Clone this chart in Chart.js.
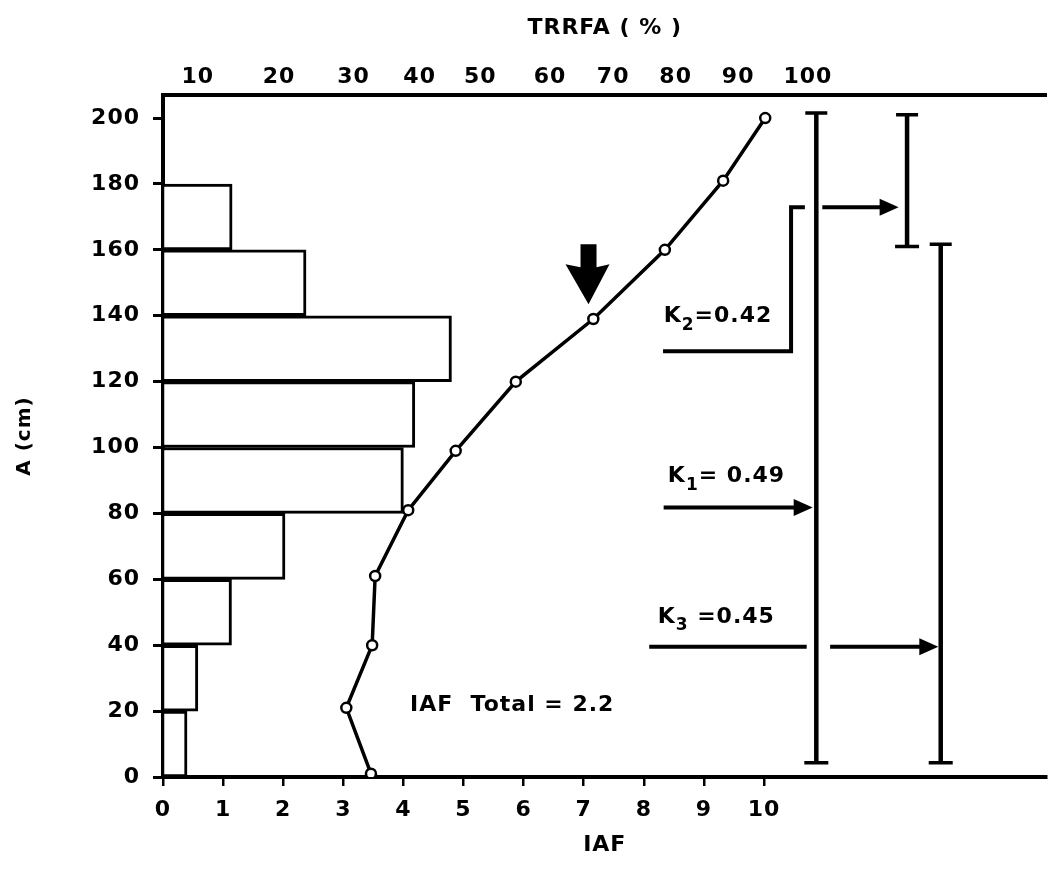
<!DOCTYPE html>
<html><head><meta charset="utf-8">
<script src="https://cdn.jsdelivr.net/npm/chart.js@4/dist/chart.umd.min.js"></script>
<style>html,body{margin:0;padding:0;background:#fff;}canvas{display:block;}</style>
</head><body>
<canvas id="c" width="1054" height="881"></canvas>
<script>
// ---- data ----
const heightA   = [1, 21, 40, 61, 81, 99, 120, 139, 160, 181, 200];          // A (cm) of curve points
const iafCurve  = [3.46, 3.05, 3.48, 3.53, 4.08, 4.87, 5.87, 7.16, 8.35, 9.32, 10.02]; // curve on IAF scale
const binCenters = [10, 30, 50, 70, 90, 110, 130, 150, 170];                 // 20 cm layers
const binIAF     = [0.40, 0.58, 1.14, 2.03, 4.00, 4.19, 4.80, 2.38, 1.15];   // IAF per layer
const xTickValues = [0,1,2,3,4,5,6,7,8,9,10];
const yTickValues = [0,20,40,60,80,100,120,140,160,180,200];
const trrfaLabels = ['10','20','30','40','50','60','70','80','90','100'];
const trrfaAtIAF  = [0.58, 1.93, 3.17, 4.27, 5.28, 6.44, 7.49, 8.53, 9.57, 10.73];
const kNames  = ['2', '1', '3'];
const kValues = ['=0.42', '= 0.49', ' =0.45'];
const totalLabel = 'IAF  Total = 2.2';

// ---- annotation geometry in data units (IAF, A) ----
const rangeBars = [ {x:10.87, lo:4.3, hi:201.5}, {x:12.38, lo:161, hi:201}, {x:12.94, lo:4.3, hi:161.7} ];
const kLabelPos = [ {x:8.33, y:139.8}, {x:8.40, y:91.2}, {x:8.23, y:48.6} ];
const kLines = [
  {pts:[[8.32,129.2],[10.45,129.2],[10.45,172.9],[10.68,172.9]], arrow:false},
  {pts:[[10.97,172.9],[12.24,172.9]], arrow:true},
  {pts:[[8.33,81.8],[10.81,81.8]], arrow:true},
  {pts:[[8.09,39.5],[10.71,39.5]], arrow:false},
  {pts:[[11.10,39.5],[12.90,39.5]], arrow:true}
];
const bigArrow = {x:7.08, top:161.7, tip:143.5};
const totalPos = {x:4.11, y:21.9};

const FONT = "'DejaVu Sans', sans-serif";

const annot = {
  id: 'annot',
  beforeDraw(chart) { chart.ctx.letterSpacing = '1px'; },
  afterDatasetsDraw(chart) {
    const {ctx} = chart;
    const xs = chart.scales.x, ys = chart.scales.y;
    const px = v => xs.getPixelForValue(v), py = v => ys.getPixelForValue(v);
    ctx.save();
    ctx.strokeStyle = '#000'; ctx.fillStyle = '#000';
    // range bars with caps
    rangeBars.forEach(b => {
      const X = px(b.x), Y1 = py(b.lo), Y2 = py(b.hi);
      ctx.lineWidth = 4.5;
      ctx.beginPath(); ctx.moveTo(X, Y1); ctx.lineTo(X, Y2); ctx.stroke();
      ctx.lineWidth = 3.5;
      ctx.beginPath();
      ctx.moveTo(X - 12, Y1); ctx.lineTo(X + 12, Y1);
      ctx.moveTo(X - 11, Y2); ctx.lineTo(X + 11, Y2);
      ctx.stroke();
    });
    // K lines and arrows
    ctx.lineWidth = 4; ctx.lineJoin = 'miter';
    kLines.forEach(l => {
      const P = l.pts.map(p => [px(p[0]), py(p[1])]);
      const n = P.length;
      let end = P[n - 1].slice();
      if (l.arrow) end[0] -= 14;
      ctx.beginPath(); ctx.moveTo(P[0][0], P[0][1]);
      for (let i = 1; i < n - 1; i++) ctx.lineTo(P[i][0], P[i][1]);
      ctx.lineTo(end[0], end[1]); ctx.stroke();
      if (l.arrow) {
        const t = P[n - 1];
        ctx.beginPath(); ctx.moveTo(t[0], t[1]);
        ctx.lineTo(t[0] - 19, t[1] - 8.5); ctx.lineTo(t[0] - 19, t[1] + 8.5);
        ctx.closePath(); ctx.fill();
      }
    });
    // K labels
    ctx.textBaseline = 'middle'; ctx.textAlign = 'left';
    kLabelPos.forEach((p, i) => {
      let X = px(p.x); const Y = py(p.y);
      ctx.font = 'bold 22px ' + FONT;
      ctx.fillText('K', X, Y); X += ctx.measureText('K').width;
      ctx.font = 'bold 17px ' + FONT;
      ctx.fillText(kNames[i], X, Y + 9); X += ctx.measureText(kNames[i]).width;
      ctx.font = 'bold 22px ' + FONT;
      ctx.fillText(kValues[i], X, Y);
    });
    // IAF total
    ctx.font = 'bold 22px ' + FONT;
    ctx.fillText(totalLabel, px(totalPos.x), py(totalPos.y));
    // big down arrow
    const ax = px(bigArrow.x), at = py(bigArrow.top), ap = py(bigArrow.tip);
    const headTop = ap - 37;
    ctx.beginPath();
    ctx.moveTo(ax - 8, at); ctx.lineTo(ax + 8, at); ctx.lineTo(ax + 8, headTop);
    ctx.lineTo(ax + 21, headTop - 3); ctx.lineTo(ax, ap); ctx.lineTo(ax - 23, headTop - 3);
    ctx.lineTo(ax - 8, headTop); ctx.closePath(); ctx.fill();
    ctx.restore();
  }
};

const tickFont = {family: FONT, size: 22, weight: 'bold'};

new Chart(document.getElementById('c'), {
  type: 'scatter',
  data: {
    datasets: [
      {
        type: 'line',
        data: heightA.map((a, i) => ({x: iafCurve[i], y: a})),
        xAxisID: 'x', yAxisID: 'y',
        borderColor: '#000', borderWidth: 3.5, tension: 0, fill: false,
        pointRadius: 5, pointBorderWidth: 2.5, pointBackgroundColor: '#fff', pointBorderColor: '#000',
        order: 0
      },
      {
        type: 'bar',
        indexAxis: 'y',
        data: binCenters.map((c, i) => ({x: binIAF[i], y: c})),
        xAxisID: 'x', yAxisID: 'y',
        backgroundColor: '#fff', borderColor: '#000', borderWidth: 3,
        barPercentage: 1, categoryPercentage: 1,
        order: 1
      }
    ]
  },
  options: {
    responsive: false, animation: false,
    layout: {padding: 0},
    plugins: {legend: {display: false}, tooltip: {enabled: false}},
    scales: {
      x: {
        type: 'linear', position: 'bottom', min: 0, max: 14.7, bounds: 'data', offset: false,
        afterBuildTicks: s => { s.ticks = xTickValues.map(v => ({value: v})); },
        afterFit: s => { s.height = 104; },
        grid: {offset: false, drawOnChartArea: false, drawTicks: true, tickLength: 9, color: '#000', lineWidth: 2.5},
        border: {display: true, color: '#000', width: 4},
        ticks: {color: '#000', font: tickFont, padding: 11, maxRotation: 0, autoSkip: false},
        title: {display: true, text: 'IAF', color: '#000', font: tickFont, padding: {top: 0, bottom: 23}}
      },
      x2: {
        type: 'linear', position: 'top', min: 0, max: 14.7, bounds: 'data', offset: false,
        afterBuildTicks: s => { s.ticks = trrfaAtIAF.map(v => ({value: v})); },
        afterFit: s => { s.height = 95; },
        grid: {display: false, drawTicks: false, offset: false},
        border: {display: true, color: '#000', width: 4},
        ticks: {color: '#000', font: tickFont, padding: 5, maxRotation: 0, autoSkip: false,
          callback: (v, i) => trrfaLabels[i]},
        title: {display: true, text: 'TRRFA ( % )', color: '#000', font: tickFont, padding: {top: 15, bottom: 0}}
      },
      y: {
        type: 'linear', position: 'left', min: 0, max: 207, bounds: 'data', offset: false,
        afterBuildTicks: s => { s.ticks = yTickValues.map(v => ({value: v})); },
        afterFit: s => { s.width = 163; },
        grid: {offset: false, drawOnChartArea: false, drawTicks: true, tickLength: 10, color: '#000', lineWidth: 3},
        border: {display: true, color: '#000', width: 4},
        ticks: {color: '#000', font: tickFont, padding: 13, autoSkip: false},
        title: {display: true, text: 'A (cm)', color: '#000', font: {family: FONT, size: 20, weight: 'bold'}, padding: {top: 13, bottom: 0}}
      }
    }
  },
  plugins: [annot]
});
</script>
</body></html>
